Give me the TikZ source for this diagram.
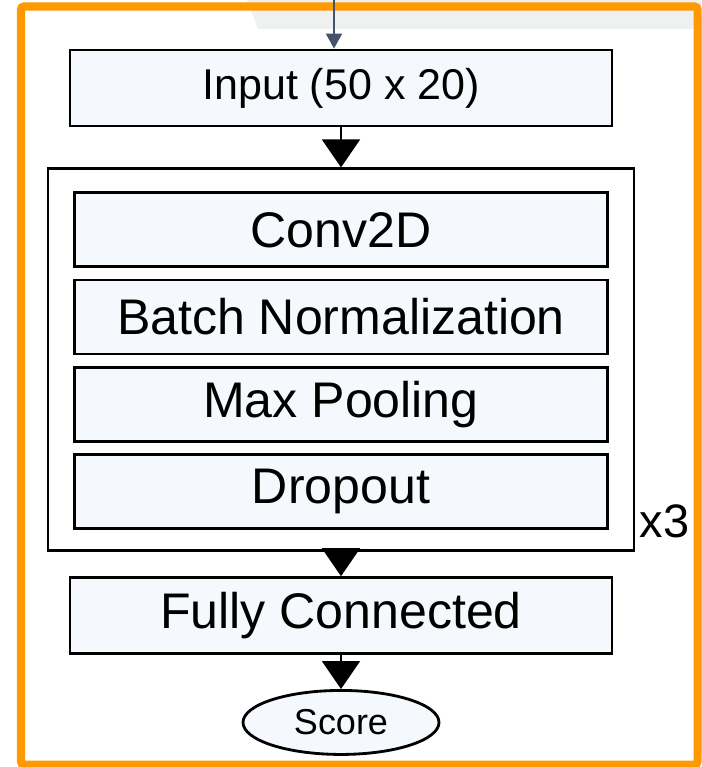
\documentclass[tikz,border=0pt]{standalone}
\usepackage{fontspec}
\setmainfont{Liberation Sans}
\usetikzlibrary{positioning, shapes.geometric, arrows.meta}

\definecolor{framecol}{HTML}{FF9900}
\definecolor{feedcol}{HTML}{44546A}
\definecolor{boxfill}{HTML}{F5F8FD}
\definecolor{slidegray}{HTML}{EFF0F0}

\begin{document}
\begin{tikzpicture}[node distance=0.26cm,
   box/.style={draw,line width=2pt,shape=rectangle,fill=boxfill,minimum width=13.55cm,minimum height=1.9cm,font=\fontsize{35.6}{40}\selectfont},
   layer/.style={box,minimum width=13.325cm,minimum height=1.85cm},
   block/.style={draw,line width=2pt,fill=white,minimum width=14.65cm,minimum height=9.55cm},
   flow/.style={line width=1.4pt,-{Triangle[width=0.95cm,length=0.7cm]}}]
   \useasboundingbox (0,0) rectangle (17.525,-19.175);
   % slide background and frame
   \fill[slidegray] (6.175,0) -- (6.45,-0.725) -- (17.525,-0.725) -- (17.525,0) -- cycle;
   \draw[framecol,line width=5.7pt,rounded corners=2pt] (0.525,-0.1625) rectangle (17.4375,-19.1125);
   % network
   \node[box,font=\fontsize{30.6}{36}\selectfont] (input) at (8.525,-2.2) { Input (50 x 20) } ;
   \node[block,below=1.0cm of input             ] (block)  {                   } ;
   \node[layer,below=0.6cm of block.north       ] (conv)   { Conv2D            } ;
   \node[layer,below=of conv                    ] (bnorm)  { Batch Normalization } ;
   \node[layer,below=of bnorm                   ] (pool)   { Max Pooling       } ;
   \node[layer,below=of pool                    ] (drop)   { Dropout           } ;
   \node[anchor=base west,inner sep=0pt,font=\fontsize{33.4}{38}\selectfont] (times) at ([xshift=0.1cm,yshift=0.375cm]block.south east) { x3 } ;
   \node[box,below=0.6cm of block               ] (fc)     { Fully Connected   } ;
   \node[draw,line width=2pt,ellipse,fill=boxfill,minimum width=4.9cm,minimum height=1.6cm,inner sep=0pt,below=0.85cm of fc,font=\fontsize{25.6}{30}\selectfont] (score) { Score } ;
   \coordinate (feed) at (8.35,0);
   \draw[feedcol,line width=1.4pt,-{Triangle[width=0.4cm,length=0.375cm]}] (feed) -- (feed |- input.north);
   \draw[flow] (input) -- (block);
   \draw[flow] (block) -- (fc);
   \draw[flow] (fc)    -- (score);
\end{tikzpicture}
\end{document}
